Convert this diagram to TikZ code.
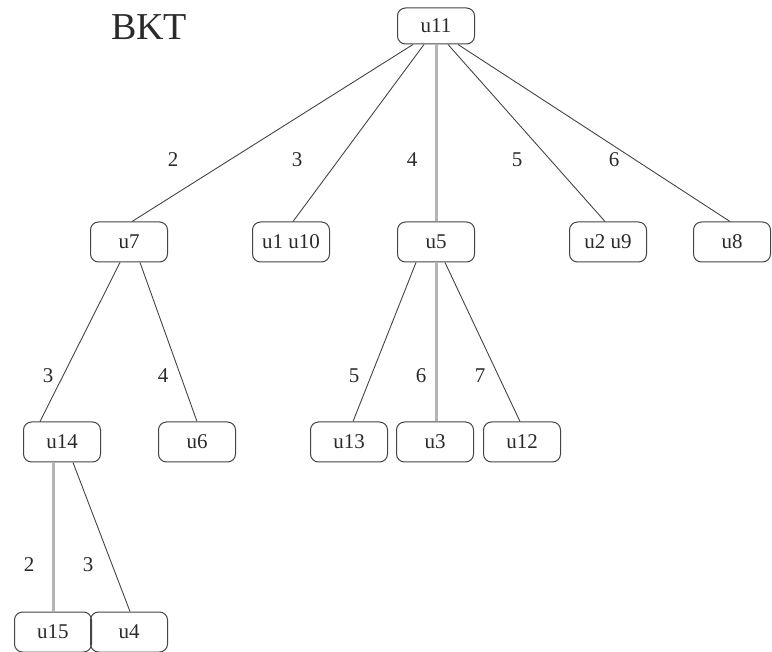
\documentclass[tikz,border=0pt]{standalone}
\usepackage{fontspec}
\setmainfont{Liberation Serif}
\definecolor{edgecol}{HTML}{444444}
\definecolor{vertcol}{HTML}{B4B4B4}
\definecolor{textcol}{HTML}{2A2A2A}
\begin{document}
\begin{tikzpicture}[x=1pt,y=-1pt,
  tnode/.style={draw=edgecol, line width=1pt, rounded corners=8pt, minimum width=77pt, minimum height=40pt, inner sep=0pt, text=textcol, font=\fontsize{21}{24}\selectfont},
  elabel/.style={text=textcol, font=\fontsize{21}{24}\selectfont, inner sep=0pt},
  edge/.style={draw=edgecol, line width=0.9pt},
  vedge/.style={draw=vertcol, line width=3pt}]
\useasboundingbox (0,0) rectangle (772,652);
\node[text=textcol, font=\fontsize{38}{40}\selectfont, inner sep=0pt] (title) at (149,27) {BKT};
\node[tnode, minimum height=36pt] (u11) at (436,26) {u11};
\node[tnode] (u7) at (129,242) {u7};
\node[tnode] (u1u10) at (291,242) {u1 u10};
\node[tnode] (u5) at (436,242) {u5};
\node[tnode] (u2u9) at (608,242) {u2 u9};
\node[tnode] (u8) at (732,242) {u8};
\node[tnode] (u14) at (62,442) {u14};
\node[tnode] (u6) at (197,442) {u6};
\node[tnode] (u13) at (349,442) {u13};
\node[tnode] (u3) at (435,442) {u3};
\node[tnode] (u12) at (522,442) {u12};
\node[tnode] (u15) at (53,632) {u15};
\node[tnode] (u4) at (129,632) {u4};
% level 1
\draw[edge] ([xshift=-23pt]u11.south) -- ([xshift=3pt]u7.north);
\draw[edge] ([xshift=-12pt]u11.south) -- ([xshift=2pt]u1u10.north);
\draw[vedge] (u11.south) -- (u5.north);
\draw[edge] ([xshift=12pt]u11.south) -- ([xshift=-3pt]u2u9.north);
\draw[edge] ([xshift=22pt]u11.south) -- ([xshift=-2pt]u8.north);
% level 2
\draw[edge] ([xshift=-9pt]u7.south) -- ([xshift=-22pt]u14.north);
\draw[edge] ([xshift=11pt]u7.south) -- (u6.north);
\draw[edge] ([xshift=-20pt]u5.south) -- ([xshift=4pt]u13.north);
\draw[vedge] (u5.south) -- (u3.north-|u5.south);
\draw[edge] ([xshift=9pt]u5.south) -- ([xshift=-2pt]u12.north);
% level 3
\draw[vedge] (u15.north|-u14.south) -- (u15.north);
\draw[edge] ([xshift=11pt]u14.south) -- ([xshift=1pt]u4.north);
% labels
\node[elabel] (l2) at (173,160) {2};
\node[elabel] (l3) at (297,160) {3};
\node[elabel] (l4) at (412,160) {4};
\node[elabel] (l5) at (517,160) {5};
\node[elabel] (l6) at (614,160) {6};
\node[elabel] (m3) at (48,376) {3};
\node[elabel] (m4) at (163,376) {4};
\node[elabel] (m5) at (354,376) {5};
\node[elabel] (m6) at (421,376) {6};
\node[elabel] (m7) at (480,376) {7};
\node[elabel] (n2) at (29,565) {2};
\node[elabel] (n3) at (88,565) {3};
\end{tikzpicture}
\end{document}
